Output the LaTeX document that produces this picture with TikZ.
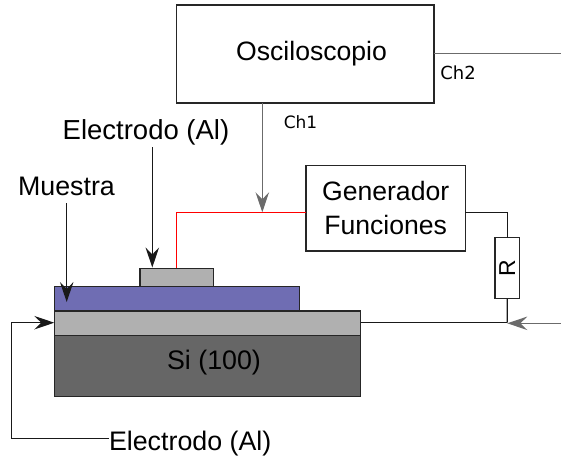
\documentclass[tikz,border=0pt]{standalone}
\usepackage{fontspec}
\setmainfont{Liberation Sans}
\newfontfamily\chfont{DejaVu Sans}
\usetikzlibrary{arrows.meta,calc}
\tikzset{
  x=1pt,y=-1pt,
  boxnode/.style={draw=#1,line width=1.2pt,inner sep=0pt,outer sep=0pt,anchor=north west,align=center,font=\fontsize{26.6}{33.5}\selectfont},
  boxnode/.default={black!85},
  layer/.style={boxnode=black!85},
  lbl/.style={inner sep=0pt,outer sep=0pt,font=\fontsize{26.8}{33}\selectfont},
  chlbl/.style={inner sep=0pt,outer sep=0pt,font=\chfont\fontsize{17}{20}\selectfont},
  wire/.style={line width=1.2pt,black!90},
  redwire/.style={line width=1.2pt,red},
  graywire/.style={line width=1.2pt,black!58},
  tip/.style={-{Stealth[length=20pt,width=13.5pt,inset=7pt]}}
}
\begin{document}
\begin{tikzpicture}
\useasboundingbox (0,0) rectangle (561,461);
% layers
\node[layer,fill=white,minimum width=257.3pt,minimum height=98pt] (osc) at (176.7,5) {\raisebox{2pt}{\hspace*{12.4pt}Osciloscopio}};
\node[layer,fill=white,minimum width=159.3pt,minimum height=85.7pt] (gen) at (306,165.3) {Generador\\Funciones};
\node[layer,fill=white,minimum width=24.3pt,minimum height=61pt] (res) at (495,237.7) {\rotatebox{90}{\fontsize{23}{23}\selectfont R}};
\node[layer,fill=black!60,minimum width=306.4pt,minimum height=61.4pt] (si) at (54.3,335.3) {};
\node[layer,fill=black!31,minimum width=306.4pt,minimum height=24.3pt] (al) at (54.3,311) {};
\node[layer,fill={rgb,255:red,111;green,109;blue,179},minimum width=245pt,minimum height=24.7pt] (muestra) at (54.3,286.3) {};
\node[layer,fill=black!31,minimum width=73.3pt,minimum height=18pt] (elec) at (140,268.3) {};
% labels
\node[lbl] (sitext) at (214,362.5) {Si (100)};
\node[lbl,font=\fontsize{27.5}{33}\selectfont] (lbtop) at (146,132) {Electrodo (Al)};
\node[lbl] (lbmu) at (66.5,186) {Muestra};
\node[lbl,anchor=west] (lbbot) at (109,443.5) {Electrodo (Al)};
\node[chlbl] (ch1) at (300.5,122.5) {Ch1};
\node[chlbl,font=\chfont\fontsize{18}{20}\selectfont] (ch2) at (458,72.5) {Ch2};
% free ends
\coordinate (chtwoend) at (561,53.7);
\coordinate (chonex) at (262.3,103);
\coordinate (redy) at (306,212.3);
\coordinate (redx) at (176.3,268.3);
\coordinate (rightend) at (561,323.3);
\coordinate (junction) at (507.3,322.7);
\coordinate (alright) at (360.7,322.7);
\coordinate (alleft) at (54.3,322.7);
\coordinate (corner) at (11.7,438.7);
\coordinate (muy) at (66.7,203);
\coordinate (mutip) at (66.7,302);
\coordinate (eltop) at (152.3,147);
\coordinate (eltip) at (152.3,267.5);
% wires
\draw[graywire] (osc.east |- chtwoend) -- (chtwoend);
\draw[graywire,tip] (chonex) -- (chonex |- redy);
\draw[redwire] (gen.west |- redy) -- (redx |- redy) -- (redx);
\draw[wire] (gen.east |- redy) -- (res.north |- redy) -- (res.north);
\draw[wire] (res.south) -- (junction);
\draw[wire] (alright) -- (junction);
\draw[graywire,tip] (rightend) -- (junction |- rightend);
\draw[wire,tip] (muy) -- (mutip);
\draw[wire,tip] (eltop) -- (eltip);
\draw[wire,tip] (lbbot.west |- corner) -- (corner) -- (corner |- alleft) -- (alleft);
\end{tikzpicture}
\end{document}
